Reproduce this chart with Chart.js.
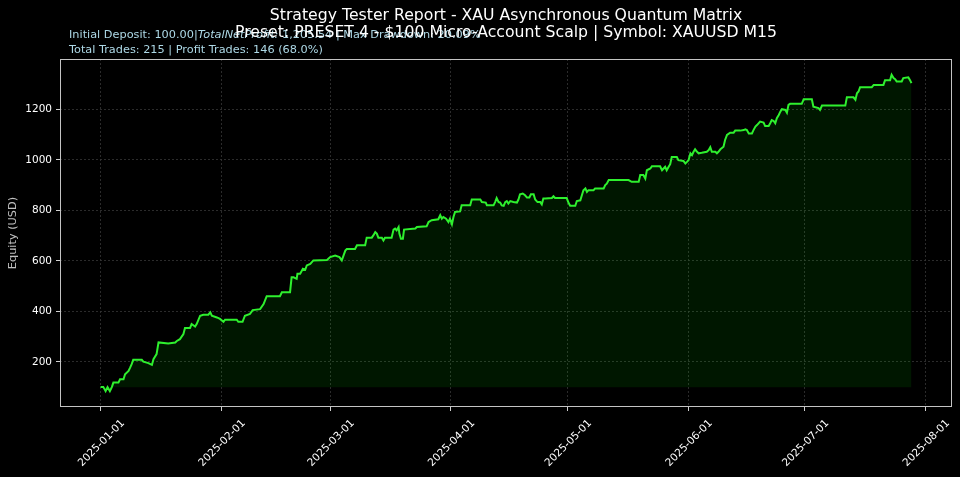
<!DOCTYPE html>
<html><head><meta charset="utf-8">
<style>html,body{margin:0;padding:0;background:#000;overflow:hidden}#wrap{width:960px;height:477px;position:relative}</style>
<script src="https://cdn.jsdelivr.net/npm/chart.js@4.4.0/dist/chart.umd.min.js"></script>
</head><body><div id="wrap"><canvas id="c" width="960" height="477"></canvas></div>
<script>
// ---- data (day offset from 2025-01-01, equity in USD) ----
const days = [
0,0.7,1.3,1.8,2.4,2.9,3.3,4.6,5.0,5.9,6.3,7.2,7.6,8.0,8.4,10.6,11.0,12.3,13.2,13.6,14.4,14.9,17.4,19.2,19.6,20.4,21.3,21.7,23.0,23.4,24.3,24.7,25.6,26.4,27.7,28.2,28.6,29.9,30.7,31.6,32.0,35.0,35.4,36.5,37.1,38.4,39.1,41.0,41.9,42.7,46.1,46.6,48.7,49.1,49.6,50.4,50.6,51.3,52.0,52.6,53.0,53.9,54.7,58.2,59.0,60.3,61.4,
62.0,62.9,63.3,65.4,65.9,68.0,68.4,69.7,70.1,70.6,71.0,71.4,72.3,72.7,73.1,74.8,75.3,75.7,76.1,76.6,76.8,77.2,77.7,78.0,80.9,81.3,83.8,84.3,85.1,86.8,87.3,87.7,88.1,88.8,89.4,89.8,90.3,90.7,91.1,92.4,92.8,95.0,95.4,97.6,98.0,99.0,99.3,101.0,101.4,101.8,102.3,102.7,103.1,103.6,104.0,104.4,104.8,105.3,106.1,107.0,107.4,107.8,108.5,109.1,109.6,110.2,110.6,111.3,111.7,112.3,113.0,113.4,113.8,114.3,116.0,116.4,116.8,119.8,120.3,120.7,122.0,
122.4,123.3,123.7,124.1,124.6,125.0,125.4,126.7,127.1,129.3,129.7,130.1,130.6,135.7,136.5,138.3,138.7,139.5,140.0,140.4,141.3,141.7,143.8,144.3,144.7,145.1,145.5,146.0,146.4,146.8,148.1,148.5,149.8,150.3,150.7,151.1,151.6,152.0,152.4,152.8,153.3,153.7,154.5,155.8,156.3,156.7,157.1,158.0,158.4,158.8,159.3,160.1,160.5,161.0,161.8,162.7,163.1,164.4,165.3,165.7,166.1,166.6,
167.4,167.8,168.3,168.7,169.5,170.4,170.8,171.7,172.1,172.5,173.0,173.4,173.8,174.3,174.7,175.1,176.0,176.4,176.8,177.2,180.2,180.7,182.8,183.2,184.5,184.9,185.4,191.4,191.8,193.5,194.0,194.4,194.8,195.2,198.2,198.7,201.2,201.6,202.9,203.3,203.8,204.2,204.6,205.9,206.3,207.6,208.0,208.4
];
const equity = [
101,101,84,100,84,100,118,118,131,131,151,164,177,191,208,208,201,195,188,211,231,277,273,277,283,290,310,334,334,350,340,350,383,387,387,396,383,376,370,359,367,367,359,359,383,390,405,409,429,460,460,476,476,535,535,529,549,549,569,565,582,588,602,604,615,621,615,
602,641,647,647,662,662,692,692,701,714,708,692,692,681,692,692,724,728,721,734,708,688,688,724,728,734,737,754,761,765,781,767,774,767,754,767,745,774,794,796,820,820,843,843,833,831,820,820,833,849,833,831,820,818,833,837,827,837,833,831,843,864,867,860,851,851,864,864,843,833,833,824,847,847,849,856,849,849,829,818,818,
837,840,860,880,887,873,880,880,887,887,900,906,920,920,913,913,940,940,926,959,966,975,975,959,966,973,959,973,983,1012,1012,999,996,986,992,999,1026,1019,1032,1042,1032,1026,1028,1032,1039,1050,1032,1032,1026,1032,1042,1052,1079,1099,1108,1108,1116,1116,1118,1121,1118,1105,
1105,1118,1132,1138,1152,1148,1134,1134,1145,1158,1154,1145,1165,1178,1191,1201,1198,1187,1218,1222,1222,1240,1240,1211,1205,1198,1215,1215,1248,1248,1238,1264,1271,1288,1288,1297,1297,1315,1315,1337,1324,1320,1311,1311,1324,1327,1317,1304
];
const initialDeposit = 100;
const xTickDays = [0,31,59,90,120,151,181,212];
const xTickLabels = ['2025-01-01','2025-02-01','2025-03-01','2025-04-01','2025-05-01','2025-06-01','2025-07-01','2025-08-01'];
const yTicks = [200,400,600,800,1000,1200];
const titleLines = ['Strategy Tester Report - XAU Asynchronous Quantum Matrix','Preset: PRESET 4 - $100 Micro-Account Scalp | Symbol: XAUUSD M15'];
const statsLine1 = [['Initial Deposit: ','n'],['100.00','n'],['|','n'],['TotalNetProfit:','i'],[' 1,205.54 | Max Drawdown: 20.09%','n']];
const statsLine2 = 'Total Trades: 215 | Profit Trades: 146 (68.0%)';
const yAxisLabel = 'Equity (USD)';

const FONT = "'DejaVu Sans', sans-serif";
const pts = days.map((d,i)=>({x:d,y:equity[i]}));
const dMin=Math.min(...days), dMax=Math.max(...days), xPad=(dMax-dMin)*0.05;
const eMin=Math.min(...equity), eMax=Math.max(...equity), yPad=(eMax-eMin)*0.05;

const deco = {
  id:'deco',
  afterDraw(chart){
    const ctx=chart.ctx, a=chart.chartArea, xs=chart.scales.x;
    ctx.save();
    // frame
    ctx.strokeStyle='#c4c4c4'; ctx.lineWidth=1; ctx.setLineDash([]);
    ctx.strokeRect(a.left+0.5,a.top+0.5,a.right-a.left-1,a.bottom-a.top-1);
    // x tick labels (rotated 45, centred on tick)
    ctx.font='10.5px '+FONT; ctx.fillStyle='#ffffff';
    ctx.textAlign='right'; ctx.textBaseline='middle';
    const c=Math.SQRT1_2, h=10.5;
    xTickDays.forEach((d,i)=>{
      const w=ctx.measureText(xTickLabels[i]).width;
      const px=xs.getPixelForValue(d)+c*w/2+1, py=a.bottom+11+c*h/2;
      ctx.save(); ctx.translate(px,py); ctx.rotate(-Math.PI/4);
      ctx.fillText(xTickLabels[i],0,0); ctx.restore();
    });
    // y axis label
    ctx.save(); ctx.translate(13,(a.top+a.bottom)/2); ctx.rotate(-Math.PI/2);
    ctx.textAlign='center'; ctx.textBaseline='middle'; ctx.fillStyle='#c0c0c0';
    ctx.font='11.3px '+FONT; ctx.fillText(yAxisLabel,0,0); ctx.restore();
    // stats text
    ctx.textAlign='left'; ctx.textBaseline='alphabetic'; ctx.fillStyle='#add8e6';
    let x=69;
    statsLine1.forEach(([t,s])=>{
      ctx.font=(s==='i'?'italic ':'')+'11.3px '+FONT;
      ctx.fillText(t,x,38); x+=ctx.measureText(t).width;
    });
    ctx.font='11.3px '+FONT; ctx.fillText(statsLine2,69,52.5);
    // title
    ctx.fillStyle='#ffffff'; ctx.textAlign='center'; ctx.font='15.7px '+FONT;
    const cx=(a.left+a.right)/2;
    ctx.fillText(titleLines[0],cx,20);
    ctx.fillText(titleLines[1],cx,37);
    ctx.restore();
  }
};

const gridOpts = {color:'#363636',lineWidth:0.8,drawTicks:true,tickLength:4,tickColor:'#d0d0d0',tickWidth:1,tickBorderDash:[]};
new Chart(document.getElementById('c'),{
  type:'line',
  data:{datasets:[{data:pts,borderColor:'#2ef02e',borderWidth:2,pointRadius:0,tension:0,
    fill:{value:initialDeposit},backgroundColor:'rgba(0,255,0,0.09)'}]},
  options:{
    responsive:false,animation:false,devicePixelRatio:1,
    layout:{padding:{top:59,right:8,left:0,bottom:0}},
    plugins:{legend:{display:false},tooltip:{enabled:false},title:{display:false}},
    scales:{
      x:{type:'linear',min:dMin-xPad,max:dMax+xPad,
        afterBuildTicks:s=>{s.ticks=xTickDays.map(v=>({value:v}));},
        afterFit:s=>{s.height=70;},
        ticks:{display:false},
        grid:gridOpts,
        border:{display:false,dash:[2,2]}},
      y:{type:'linear',min:eMin-yPad,max:eMax+yPad,
        afterBuildTicks:s=>{s.ticks=yTicks.map(v=>({value:v}));},
        afterFit:s=>{s.width=60;},
        ticks:{color:'#ffffff',font:{family:FONT,size:10.5},padding:4,callback:v=>String(v)},
        grid:gridOpts,
        border:{display:false,dash:[2,2]}}
    }
  },
  plugins:[deco]
});
</script></body></html>
